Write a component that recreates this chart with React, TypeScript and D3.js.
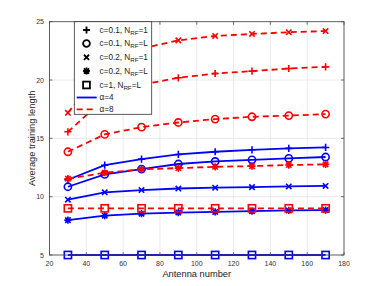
import React from "react";
import * as d3 from "d3";

const antennas = [30, 50, 70, 90, 110, 130, 150, 170];
const xTicks = [20, 40, 60, 80, 100, 120, 140, 160, 180];
const yTicks = [5, 10, 15, 20, 25];

// alpha = 4 (blue, solid)
const a4Plus = [11.45, 12.7, 13.22, 13.62, 13.85, 14.02, 14.14, 14.22];
const a4Circle = [10.85, 11.91, 12.37, 12.8, 13.02, 13.16, 13.28, 13.4];
const a4Cross = [9.74, 10.37, 10.57, 10.7, 10.77, 10.82, 10.88, 10.92];
const a4Star = [7.99, 8.37, 8.54, 8.64, 8.69, 8.76, 8.82, 8.85];
const a4Square = [5, 5, 5, 5, 5, 5, 5, 5];

// alpha = 8 (red, dashed)
const a8Plus = [15.56, 18.4, 19.6, 20.19, 20.56, 20.76, 20.99, 21.13];
const a8Circle = [13.85, 15.34, 15.96, 16.36, 16.65, 16.85, 16.95, 17.08];
const a8Cross = [17.19, 21.0, 22.7, 23.4, 23.78, 23.95, 24.1, 24.2];
const a8Star = [11.54, 12.05, 12.34, 12.45, 12.56, 12.62, 12.71, 12.77];
const a8Square = [9, 9, 9, 9, 9, 9, 9, 9];

type Marker = "plus" | "circle" | "cross" | "star" | "square";

const blueSeries: [number[], Marker][] = [
  [a4Square, "square"],
  [a4Star, "star"],
  [a4Cross, "cross"],
  [a4Circle, "circle"],
  [a4Plus, "plus"],
];
const redSeries: [number[], Marker][] = [
  [a8Square, "square"],
  [a8Star, "star"],
  [a8Cross, "cross"],
  [a8Circle, "circle"],
  [a8Plus, "plus"],
];

const legendMarkers: [Marker, string, string, string][] = [
  ["plus", "c=0.1, N", "RF", "=1"],
  ["circle", "c=0.1, N", "RF", "=L"],
  ["cross", "c=0.2, N", "RF", "=1"],
  ["star", "c=0.2, N", "RF", "=L"],
  ["square", "c=1, N", "RF", "=L"],
];

const W = 381;
const H = 286;
const margin = { top: 21.7, right: 37, bottom: 31, left: 49.5 };
const font = "Liberation Sans, Arial, Helvetica, sans-serif";

function MarkerShape({ type, cx, cy, color, s = 3.6, sw = 1.6 }: any) {
  if (type === "circle")
    return <circle cx={cx} cy={cy} r={s} fill="none" stroke={color} strokeWidth={sw} />;
  if (type === "square")
    return (
      <rect x={cx - s} y={cy - s} width={2 * s} height={2 * s} fill="none" stroke={color} strokeWidth={sw} />
    );
  const p = `M${cx - s},${cy}H${cx + s}M${cx},${cy - s}V${cy + s}`;
  const d = s * 0.75;
  const x = `M${cx - d},${cy - d}L${cx + d},${cy + d}M${cx - d},${cy + d}L${cx + d},${cy - d}`;
  const path = type === "plus" ? p : type === "cross" ? x : p + x;
  return <path d={path} fill="none" stroke={color} strokeWidth={sw} />;
}

export default function App() {
  const x = d3.scaleLinear().domain([20, 180]).range([margin.left, W - margin.right]);
  const y = d3.scaleLinear().domain([5, 25]).range([H - margin.bottom, margin.top]);
  const line = (vals: number[]) =>
    d3.line<number>().x((_, i) => x(antennas[i])).y((v) => y(v))(vals) || "";

  const blue = "#0000ff";
  const red = "#ff0000";
  const axis = "#4d4d4d";
  const x0 = x(20), x1 = x(180), y0 = y(5), y1 = y(25);

  const lx = 74.3, ly = y1, lw = 77.4, lh = 92.6;
  const rowY = [30, 43.5, 57.3, 71, 85];

  return (
    <svg width={W} height={H} style={{ position: "absolute", left: 0, top: 0, background: "#fff" }}>
      <rect x={0} y={0} width={W} height={H} fill="#fff" />
      {/* grid */}
      {xTicks.slice(1, -1).map((t) => (
        <line key={"gx" + t} x1={x(t)} x2={x(t)} y1={y0} y2={y1} stroke="#e5e5e5" strokeWidth={0.8} />
      ))}
      {yTicks.slice(1, -1).map((t) => (
        <line key={"gy" + t} x1={x0} x2={x1} y1={y(t)} y2={y(t)} stroke="#e5e5e5" strokeWidth={0.8} />
      ))}
      {/* series */}
      {blueSeries.map(([vals, m], k) => (
        <g key={"b" + k}>
          <path d={line(vals)} fill="none" stroke={blue} strokeWidth={1.8} />
          {vals.map((v, i) => (
            <MarkerShape key={i} type={m} cx={x(antennas[i])} cy={y(v)} color={blue} />
          ))}
        </g>
      ))}
      {redSeries.map(([vals, m], k) => (
        <g key={"r" + k}>
          <path d={line(vals)} fill="none" stroke={red} strokeWidth={1.8} strokeDasharray="6,4" />
          {vals.map((v, i) => (
            <MarkerShape key={i} type={m} cx={x(antennas[i])} cy={y(v)} color={red} />
          ))}
        </g>
      ))}
      {/* axes box and ticks */}
      <rect x={x0} y={y1} width={x1 - x0} height={y0 - y1} fill="none" stroke={axis} strokeWidth={0.9} />
      {xTicks.map((t) => (
        <g key={"tx" + t}>
          <line x1={x(t)} x2={x(t)} y1={y0} y2={y0 - 3} stroke={axis} strokeWidth={0.8} />
          <line x1={x(t)} x2={x(t)} y1={y1} y2={y1 + 3} stroke={axis} strokeWidth={0.8} />
          <text x={x(t)} y={y0 + 10.5} fontSize={7} fontFamily={font} fill="#333" textAnchor="middle">
            {t}
          </text>
        </g>
      ))}
      {yTicks.map((t) => (
        <g key={"ty" + t}>
          <line x1={x0} x2={x0 + 3} y1={y(t)} y2={y(t)} stroke={axis} strokeWidth={0.8} />
          <line x1={x1} x2={x1 - 3} y1={y(t)} y2={y(t)} stroke={axis} strokeWidth={0.8} />
          <text x={x0 - 5.5} y={y(t) + 2.5} fontSize={7} fontFamily={font} fill="#333" textAnchor="end">
            {t}
          </text>
        </g>
      ))}
      <text x={(x0 + x1) / 2} y={277} fontSize={9.3} fontFamily={font} fill="#222" textAnchor="middle">
        Antenna number
      </text>
      <text
        transform={`translate(35,${(y0 + y1) / 2}) rotate(-90)`}
        fontSize={9.3}
        fontFamily={font}
        fill="#222"
        textAnchor="middle"
      >
        Average training length
      </text>
      {/* legend */}
      <rect x={lx} y={ly} width={lw} height={lh} fill="#fff" stroke="#333" strokeWidth={0.8} />
      {legendMarkers.map(([m, a, sub, b], i) => (
        <g key={"lg" + i}>
          <MarkerShape type={m} cx={86.5} cy={rowY[i]} color="#000" s={3.4} sw={1.8} />
          <text x={99.5} y={rowY[i] + 2.8} fontSize={8.2} fontFamily={font} fill="#222">
            {a}
            <tspan fontSize={6.2} dy={2}>{sub}</tspan>
            <tspan dy={-2}>{b}</tspan>
          </text>
        </g>
      ))}
      <line x1={76.7} x2={96.7} y1={97.5} y2={97.5} stroke={blue} strokeWidth={1.8} />
      <text x={99.5} y={100.3} fontSize={8.2} fontFamily={font} fill="#222">α=4</text>
      <line x1={76.7} x2={96.7} y1={109.3} y2={109.3} stroke={red} strokeWidth={1.8} strokeDasharray="6,4" />
      <text x={99.5} y={112.1} fontSize={8.2} fontFamily={font} fill="#222">α=8</text>
    </svg>
  );
}
